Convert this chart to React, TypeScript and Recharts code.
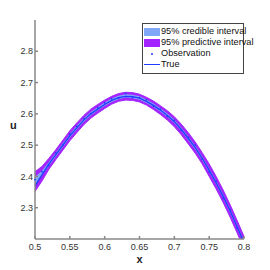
import React from 'react';
import {
  ComposedChart,
  Area,
  Line,
  XAxis,
  YAxis,
  Label,
} from 'recharts';

const xs = [
  0.5, 0.51, 0.52, 0.53, 0.54, 0.55, 0.56, 0.57, 0.58, 0.59, 0.6, 0.61, 0.62, 0.63, 0.64, 0.65,
  0.66, 0.67, 0.68, 0.69, 0.7, 0.71, 0.72, 0.73, 0.74, 0.75, 0.76, 0.77, 0.78, 0.79, 0.8,
];
const trueU = [
  2.37, 2.405, 2.44, 2.47, 2.5, 2.53, 2.555, 2.58, 2.6, 2.615, 2.63, 2.643, 2.652, 2.656, 2.655, 2.65,
  2.64, 2.627, 2.612, 2.595, 2.575, 2.55, 2.522, 2.492, 2.458, 2.42, 2.38, 2.337, 2.29, 2.24, 2.188,
];
const obsU = [
  2.39, 2.415, 2.435, 2.475, 2.5, 2.535, 2.56, 2.585, 2.6, 2.62, 2.635, 2.648, 2.65, 2.665, 2.652, 2.652,
  2.645, 2.625, 2.615, 2.592, 2.58, 2.548, 2.525, 2.5, 2.455, 2.415, 2.385, 2.33, 2.295, 2.235, 2.19,
];
const credLo = [
  2.372, 2.402, 2.434, 2.464, 2.494, 2.524, 2.55, 2.575, 2.595, 2.611, 2.625, 2.638, 2.647, 2.652, 2.65, 2.645,
  2.635, 2.622, 2.607, 2.59, 2.57, 2.545, 2.516, 2.486, 2.452, 2.414, 2.374, 2.331, 2.284, 2.234, 2.182,
];
const credHi = [
  2.398, 2.418, 2.446, 2.476, 2.506, 2.536, 2.562, 2.586, 2.606, 2.621, 2.636, 2.649, 2.658, 2.663, 2.661, 2.656,
  2.646, 2.633, 2.618, 2.601, 2.581, 2.556, 2.528, 2.498, 2.464, 2.426, 2.386, 2.343, 2.296, 2.246, 2.194,
];
const predLo = [
  2.352, 2.385, 2.423, 2.454, 2.484, 2.514, 2.54, 2.565, 2.586, 2.602, 2.617, 2.631, 2.64, 2.644, 2.643, 2.638,
  2.628, 2.614, 2.598, 2.58, 2.559, 2.533, 2.504, 2.474, 2.44, 2.4, 2.36, 2.317, 2.27, 2.22, 2.168,
];
const predHi = [
  2.415, 2.432, 2.458, 2.486, 2.516, 2.546, 2.571, 2.595, 2.615, 2.63, 2.644, 2.656, 2.665, 2.669, 2.668, 2.663,
  2.653, 2.641, 2.626, 2.61, 2.591, 2.567, 2.54, 2.51, 2.476, 2.44, 2.4, 2.357, 2.31, 2.26, 2.208,
];

const xTicks = [0.5, 0.55, 0.6, 0.65, 0.7, 0.75, 0.8];
const yTicks = [2.3, 2.4, 2.5, 2.6, 2.7, 2.8];

const legendItems = [
  { label: '95% credible interval', kind: 'patch', color: '#80a6f7' },
  { label: '95% predictive interval', kind: 'patch', color: '#a424ff' },
  { label: 'Observation', kind: 'dot', color: '#1f3cff' },
  { label: 'True', kind: 'line', color: '#1f3cff' },
];

const data = xs.map((x, i) => ({
  x,
  pred: [predLo[i], predHi[i]],
  cred: [credLo[i], credHi[i]],
  u: trueU[i],
  obs: obsU[i],
}));

const FONT = '"Liberation Sans", Arial, sans-serif';
const tickStyle = { fontSize: 9, fill: '#333', fontFamily: FONT };

function fmt(v: number) {
  return String(Math.round(v * 100) / 100);
}

function LegendBox() {
  return (
    <div
      style={{
        position: 'absolute',
        left: 142,
        top: 23,
        width: 99,
        height: 47,
        border: '1px solid #444',
        background: '#fff',
        padding: '2px 0 0 1px',
        fontFamily: FONT,
        fontSize: 9.2,
        color: '#111',
        lineHeight: '11px',
      }}
    >
      {legendItems.map((it) => (
        <div key={it.label} style={{ display: 'flex', alignItems: 'center', height: 11 }}>
          <span style={{ width: 16, height: 9, display: 'inline-flex', alignItems: 'center', justifyContent: 'center', marginRight: 1 }}>
            {it.kind === 'patch' && <span style={{ width: 16, height: 8, background: it.color }} />}
            {it.kind === 'dot' && <span style={{ width: 2, height: 2, borderRadius: 1, background: it.color }} />}
            {it.kind === 'line' && <span style={{ width: 16, height: 1.5, background: it.color }} />}
          </span>
          <span style={{ whiteSpace: 'nowrap' }}>{it.label}</span>
        </div>
      ))}
    </div>
  );
}

export default function App() {
  return (
    <div style={{ position: 'absolute', left: 0, top: 0, width: 270, height: 270, background: '#fff' }}>
      <ComposedChart width={270} height={270} data={data} margin={{ top: 20, right: 26, bottom: 0, left: 0 }}>
        <XAxis
          dataKey="x"
          type="number"
          domain={[0.5, 0.8]}
          ticks={xTicks}
          tickFormatter={fmt}
          height={31}
          stroke="#888"
          strokeWidth={1.5}
          tick={tickStyle}
          tickSize={-3}
          tickMargin={8}
        >
          <Label value="x" position="insideBottom" offset={7} style={{ fontSize: 11, fontWeight: 'bold', fill: '#222', fontFamily: FONT }} />
        </XAxis>
        <XAxis
          xAxisId="top"
          dataKey="x"
          type="number"
          orientation="top"
          domain={[0.5, 0.8]}
          ticks={xTicks}
          tickFormatter={() => ''}
          height={0}
          stroke="#333"
          tickSize={-3}
        />
        <YAxis
          type="number"
          domain={[2.2, 2.9]}
          allowDataOverflow
          ticks={yTicks}
          tickFormatter={fmt}
          width={35}
          stroke="#888"
          strokeWidth={1.5}
          tick={tickStyle}
          tickSize={-3}
          tickMargin={5}
        >
          <Label value="u" position="insideLeft" offset={10} dy={-4} style={{ fontSize: 11, fontWeight: 'bold', fill: '#222', fontFamily: FONT }} />
        </YAxis>
        <YAxis
          yAxisId="right"
          orientation="right"
          type="number"
          domain={[2.2, 2.9]}
          ticks={yTicks}
          tickFormatter={() => ''}
          width={0}
          stroke="#333"
          tickSize={-3}
        />
        <Area dataKey="pred" type="linear" stroke="#a424ff" strokeWidth={1} fill="#a424ff" fillOpacity={1} isAnimationActive={false} />
        <Area dataKey="cred" type="linear" stroke="none" fill="#80a6f7" fillOpacity={1} isAnimationActive={false} />
        <Line dataKey="u" type="linear" stroke="#1f3cff" strokeWidth={1.3} dot={false} isAnimationActive={false} />
        <Line
          dataKey="obs"
          type="linear"
          stroke="none"
          dot={{ r: 0.9, fill: '#1f3cff', stroke: 'none' }}
          isAnimationActive={false}
        />
      </ComposedChart>
      <LegendBox />
    </div>
  );
}
